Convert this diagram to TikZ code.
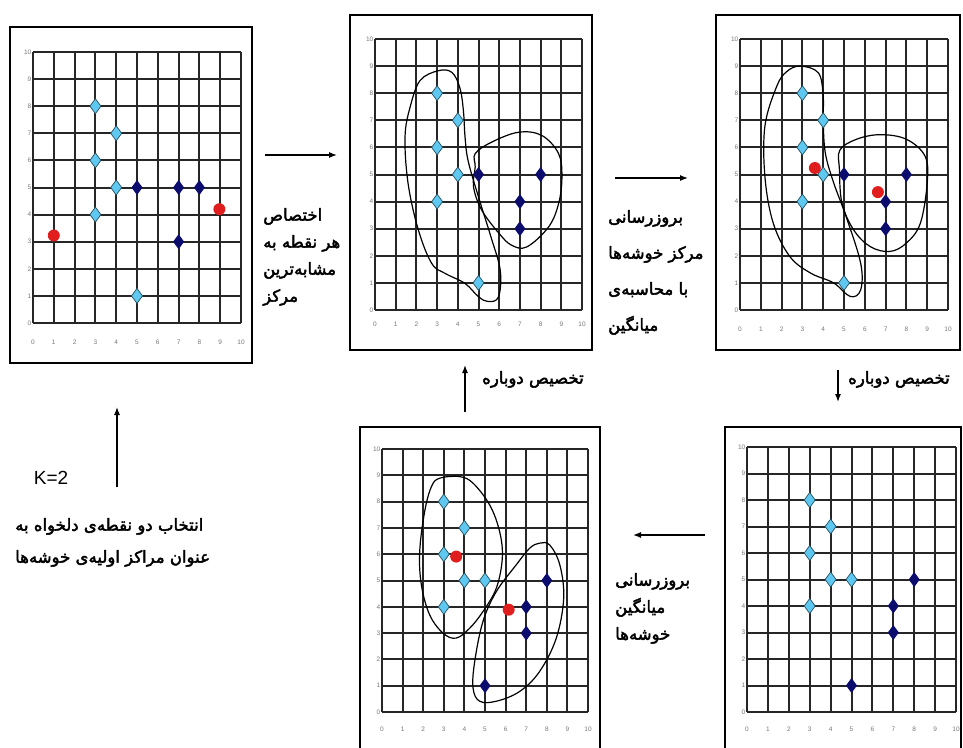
\documentclass[tikz,border=0pt]{standalone}
\usepackage{fontspec}
\setmainfont{Liberation Sans}
\newfontfamily\fafont[Script=Arabic,FakeBold=2.6]{DejaVu Sans}
\TeXXeTstate=1
\usetikzlibrary{arrows.meta}

\definecolor{ltblue}{RGB}{95,200,240}
\definecolor{dkblue}{RGB}{12,12,110}
\definecolor{ptred}{RGB}{225,30,30}
\definecolor{ticklbl}{RGB}{120,120,120}

\tikzset{
  frame/.style={draw=black, line width=2pt},
  gridln/.style={draw=black!85, line width=2pt, step=1},
  blob/.style={draw=black, line width=1.2pt},
  tick/.style={font=\fontsize{6.5}{7}\selectfont, text=ticklbl, inner sep=1.5pt},
  fatext/.style={font=\fafont\fontsize{16.5}{27}\selectfont, align=left, inner sep=0pt, anchor=north west},
  flow/.style={-{Latex[length=8pt,width=6pt]}, line width=1.2pt},
  lpt/.pic={\draw[fill=ltblue, draw=black!60!ltblue, line width=.7pt] (0,7.5pt)--(5.5pt,0)--(0,-7.5pt)--(-5.5pt,0)--cycle;},
  dpt/.pic={\fill[dkblue] (0,7.5pt)--(5.5pt,0)--(0,-7.5pt)--(-5.5pt,0)--cycle;},
}

\begin{document}
\begin{tikzpicture}[x=1pt,y=-1pt]
\useasboundingbox (0,0) rectangle (963,747);
\clip (0,0) rectangle (963,747);
\fill[white] (0,0) rectangle (963,747);

% panel 1 : two random centers
\draw[frame] (10,27) rectangle (252,363);
\begin{scope}[shift={(33,323)},x=20.8pt,y=27.1pt]
\draw[gridln] (0,0) grid (10,10);
\foreach \i in {0,...,10} {
  \node[tick,yshift=-19pt] (p1x\i) at (\i,0) {\i};
  \node[tick,anchor=east] (p1y\i) at (0,\i) {\i};
}
\foreach \x/\y in {3/8,4/7,3/6,4/5,3/4,5/1} \pic at (\x,\y) {lpt};
\foreach \x/\y in {5/5,7/5,8/5,7/3} \pic at (\x,\y) {dpt};
\fill[ptred] (1,3.23) circle (6pt);
\fill[ptred] (8.96,4.2) circle (6pt);
\end{scope}

% panel 2 : assignment
\draw[frame] (350,15) rectangle (592,350);
\begin{scope}[shift={(375,310)},x=20.7pt,y=27.1pt]
\draw[gridln] (0,0) grid (10,10);
\foreach \i in {0,...,10} {
  \node[tick,yshift=-14pt] (p2x\i) at (\i,0) {\i};
  \node[tick,anchor=east] (p2y\i) at (0,\i) {\i};
}
\draw[blob] plot[smooth cycle,tension=.6] coordinates {(3.06,8.83) (3.71,8.77) (4.1,8.2) (4.27,7.36) (4.35,6.38) (4.5,5.5) (5,4.17) (5.6,2.7) (6.05,1.47) (5.97,.49) (5.48,.31) (5,.49) (4.35,.98) (3.39,1.35) (2.74,1.72) (2.1,2.94) (1.6,4.66) (1.45,6.38) (1.7,7.5) (2.18,8.47)};
\draw[blob] plot[smooth cycle,tension=.6] coordinates {(4.84,5.77) (5.65,6.2) (6.94,6.56) (8.06,6.44) (8.87,5.77) (9.03,4.9) (8.87,3.93) (8.39,3.07) (7.34,2.33) (6.6,2.39) (6,2.82) (5.16,3.68) (4.76,4.54) (4.84,5.28)};
\foreach \x/\y in {3/8,4/7,3/6,4/5,3/4,5/1} \pic at (\x,\y) {lpt};
\foreach \x/\y in {5/5,8/5,7/4,7/3} \pic at (\x,\y) {dpt};
\end{scope}

% panel 3 : new centers
\draw[frame] (716,15) rectangle (960,350);
\begin{scope}[shift={(740,310)},x=20.8pt,y=27.1pt]
\draw[gridln] (0,0) grid (10,10);
\foreach \i in {0,...,10} {
  \node[tick,yshift=-19pt] (p3x\i) at (\i,0) {\i};
  \node[tick,anchor=east] (p3y\i) at (0,\i) {\i};
}
\draw[blob] plot[smooth cycle,tension=.6] coordinates {(2.9,9) (3.77,8.75) (4,7.9) (4,7) (4.1,5.8) (4.5,4.7) (5.1,3.45) (5.8,1.73) (5.8,.74) (5.3,.5) (4.5,1) (3.4,1.36) (2.4,1.97) (1.6,3.2) (1.2,4.9) (1.2,6.8) (1.77,8.26) (2.25,8.8)};
\draw[blob] plot[smooth cycle,tension=.6] coordinates {(4.8,5.9) (5.6,6.3) (6.74,6.47) (8,6.3) (8.9,5.67) (9,4.69) (8.67,3.2) (8,2.47) (7.2,2.16) (6.26,2.34) (5.46,2.96) (4.9,3.95) (4.78,5.18)};
\foreach \x/\y in {3/8,4/7,3/6,4/5,3/4,5/1} \pic at (\x,\y) {lpt};
\foreach \x/\y in {5/5,8/5,7/4,7/3} \pic at (\x,\y) {dpt};
\fill[ptred] (3.6,5.24) circle (6pt);
\fill[ptred] (6.63,4.35) circle (6pt);
\end{scope}

% panel 4 : reassignment
\draw[frame] (360,427) rectangle (600,770);
\begin{scope}[shift={(382,712)},x=20.6pt,y=26.3pt]
\draw[gridln] (0,0) grid (10,10);
\foreach \i in {0,...,10} {
  \node[tick,yshift=-17pt] (p4x\i) at (\i,0) {\i};
  \node[tick,anchor=east] (p4y\i) at (0,\i) {\i};
}
\draw[blob] plot[smooth cycle,tension=.6] coordinates {(2.8,8.89) (3.77,8.95) (4.42,8.7) (5.23,7.87) (5.71,6.86) (5.84,5.85) (5.55,4.71) (4.9,3.82) (4.26,3.19) (3.6,2.81) (2.96,3) (2.31,3.7) (1.91,4.84) (1.83,6.1) (2.07,7.62) (2.4,8.57)};
\draw[blob] plot[smooth cycle,tension=.6] coordinates {(7.65,6.42) (8.14,6.35) (8.63,5.6) (8.82,4.33) (8.46,2.81) (7.65,1.54) (6.68,.78) (5.55,.41) (4.74,.41) (4.42,.91) (4.5,1.92) (4.9,3.44) (5.55,4.58) (6.52,5.6) (7.17,6.23)};
\foreach \x/\y in {3/8,4/7,3/6,4/5,5/5,3/4} \pic at (\x,\y) {lpt};
\foreach \x/\y in {8/5,7/4,7/3,5/1} \pic at (\x,\y) {dpt};
\fill[ptred] (3.6,5.91) circle (6pt);
\fill[ptred] (6.15,3.89) circle (6pt);
\end{scope}

% panel 5 : points after update
\draw[frame] (725,427) rectangle (961,770);
\begin{scope}[shift={(747,712)},x=20.9pt,y=26.5pt]
\draw[gridln] (0,0) grid (10,10);
\foreach \i in {0,...,10} {
  \node[tick,yshift=-17pt] (p5x\i) at (\i,0) {\i};
  \node[tick,anchor=east] (p5y\i) at (0,\i) {\i};
}
\foreach \x/\y in {3/8,4/7,3/6,4/5,5/5,3/4} \pic at (\x,\y) {lpt};
\foreach \x/\y in {8/5,7/4,7/3,5/1} \pic at (\x,\y) {dpt};
\end{scope}

% arrows
\coordinate (a1s) at (265,155);  \coordinate (a1e) at (337,155);
\coordinate (a2s) at (615,178);  \coordinate (a2e) at (688,178);
\coordinate (a3s) at (838,370);  \coordinate (a3e) at (838,402);
\coordinate (a4s) at (465,412);  \coordinate (a4e) at (465,365);
\coordinate (a5s) at (705,535);  \coordinate (a5e) at (633,535);
\coordinate (a6s) at (117,487);  \coordinate (a6e) at (117,407);
\draw[flow] (a1s) -- (a1e);
\draw[flow] (a2s) -- (a2e);
\draw[flow] (a3s) -- (a3e);
\draw[flow] (a4s) -- (a4e);
\draw[flow] (a5s) -- (a5e);
\draw[flow] (a6s) -- (a6e);

% texts
\node[fatext] (assign) at (263,208) {\beginR اختصاص\endR\\\beginR هر نقطه به\endR\\\beginR مشابه^^^^200cترین\endR\\\beginR مرکز\endR};
\node[fatext,font=\fafont\fontsize{16.5}{36}\selectfont] (update) at (608,210) {\beginR بروزرسانی\endR\\\beginR مرکز خوشه^^^^200cها\endR\\\beginR با محاسبه^^^^200cی\endR\\\beginR میانگین\endR};
\node[fatext] (again1) at (482,371) {\beginR تخصیص دوباره\endR};
\node[fatext] (again2) at (848,371) {\beginR تخصیص دوباره\endR};
\node[fatext] (update2) at (615,573) {\beginR بروزرسانی\endR\\\beginR میانگین\endR\\\beginR خوشه^^^^200cها\endR};
\node[fatext,font=\fafont\fontsize{16.5}{32}\selectfont] (choose) at (15,518) {\beginR انتخاب دو نقطه^^^^200cی دلخواه به\endR\\\beginR عنوان مراکز اولیه^^^^200cی خوشه^^^^200cها\endR};
\node[font=\fontsize{19}{22}\selectfont, inner sep=0pt] (k) at (51,478) {K=2};
\end{tikzpicture}
\end{document}
